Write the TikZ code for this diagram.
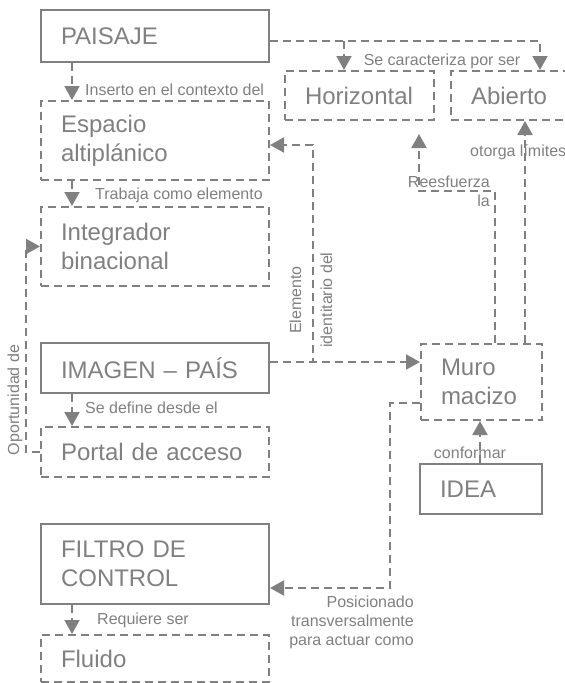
\documentclass[tikz,border=0pt]{standalone}
\usepackage{fontspec}
\setmainfont{Liberation Sans}
\usetikzlibrary{arrows.meta}
\definecolor{gris}{RGB}{128,128,128}
\newcommand\bigtxt{\fontsize{24}{29}\selectfont}
\newcommand\smalltxt{\fontsize{16}{19}\selectfont}

\begin{document}
\begin{tikzpicture}[x=1pt,y=-1pt,
 bx/.style={draw=gris,line width=2pt,anchor=north west,align=left,inner xsep=20pt,inner ysep=0pt,text=gris,font=\bigtxt},
 dbx/.style={bx,dash pattern=on 8pt off 5pt},
 ar/.style={-{Triangle[length=14pt,width=15pt]},draw=gris,line width=2pt,dash pattern=on 8pt off 5pt},
 lb/.style={inner sep=0pt,text=gris,font=\smalltxt}]
\useasboundingbox (0,0) rectangle (565,683);
% left column
\node[bx,text width=188pt,minimum height=52pt] (paisaje) at (40,9) {PAISAJE};
\node[dbx,text width=188pt,minimum height=79pt] (espacio) at (40,100) {Espacio\\altiplánico};
\node[dbx,text width=188pt,minimum height=79pt] (integrador) at (40,206) {Integrador\\binacional};
\node[bx,text width=188pt,minimum height=50pt] (imagen) at (40,342) {IMAGEN – PAÍS};
\node[dbx,text width=188pt,minimum height=50pt] (portal) at (40,426) {Portal de acceso};
\node[bx,text width=188pt,minimum height=80pt] (filtro) at (40,523) {FILTRO DE\\CONTROL};
\node[dbx,text width=188pt,minimum height=47pt] (fluido) at (40,634) {Fluido};
% right side
\node[dbx,text width=109pt,minimum height=49pt] (horizontal) at (284,70) {Horizontal};
\node[dbx,text width=80pt,minimum height=49pt] (abierto) at (450,70) {Abierto};
\node[dbx,text width=81pt,minimum height=76pt] (muro) at (420,343) {Muro\\macizo};
\node[bx,text width=82pt,minimum height=50pt] (idea) at (419,463) {IDEA};

% bends
\coordinate (pj) at (0,41);
\coordinate (hx) at (344,0);
\coordinate (ax) at (540,0);
\coordinate (lx) at (72,0);
\coordinate (ox) at (26,0);
\coordinate (iy) at (0,362);
\coordinate (ex) at (313,145);
\coordinate (rx) at (495,0);
\coordinate (rb) at (419,191);
\coordinate (tx) at (525,0);
\coordinate (cx) at (480,0);
\coordinate (my) at (0,403);
\coordinate (fx) at (390,588);

\draw[ar] (paisaje.east |- pj) -| (abierto.north -| ax);
\draw[ar] (hx |- pj) -- (horizontal.north -| hx);
\draw[ar] (paisaje.south -| lx) -- (espacio.north -| lx);
\draw[ar] (espacio.south -| lx) -- (integrador.north -| lx);
\draw[ar] (imagen.south -| lx) -- (portal.north -| lx);
\draw[ar] (filtro.south -| lx) -- (fluido.north -| lx);
\draw[ar] (portal.west) -| (ox |- integrador.west) -- (integrador.west);
\draw[ar] (imagen.east |- iy) -- (muro.west |- iy);
\draw[ar] (imagen.east |- iy) -| (ex) -- (espacio.east |- ex);
\draw[ar,shorten >=13pt] (muro.north -| rx) |- (rb) -- (horizontal.south -| rb);
\draw[ar] (muro.north -| tx) -- (abierto.south -| tx);
\draw[ar] (idea.north -| cx) -- (muro.south -| cx);
\draw[ar] (muro.west |- my) -| (fx) -- (filtro.east |- fx);

% labels
\node[lb,anchor=west] (l1) at (85,90) {Inserto en el contexto del};
\node[lb] (l2) at (442,61) {Se caracteriza por ser};
\node[lb,anchor=west] (l3) at (95,195) {Trabaja como elemento};
\node[lb,rotate=90] (l4) at (15,400) {Oportunidad de};
\node[lb,rotate=90,align=center] (l5) at (311,300) {Elemento\\[12pt]identitario del};
\node[lb,anchor=east,align=right] (l6) at (490,191) {Reesfuerza\\la};
\node[lb,anchor=west] (l7) at (470,152) {otorga límites};
\node[lb,anchor=west] (l8) at (85,408) {Se define desde el};
\node[lb] (l9) at (470,453) {conformar};
\node[lb,anchor=east,align=right] (l10) at (414,622) {Posicionado\\transversalmente\\para actuar como};
\node[lb,anchor=west] (l11) at (97,620) {Requiere ser};
\end{tikzpicture}
\end{document}
